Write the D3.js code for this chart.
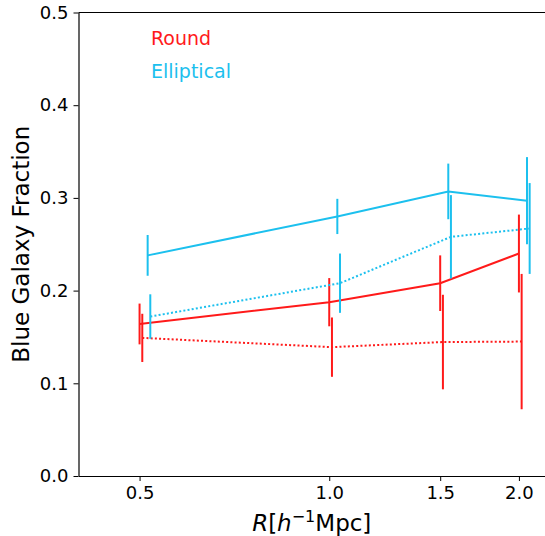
<!DOCTYPE html>
<html>
<head>
<meta charset="utf-8">
<script src="https://cdn.jsdelivr.net/npm/d3@7"></script>
<style>
  body { margin: 0; background: #fff; }
  svg { display: block; font-family: "DejaVu Sans", sans-serif; }
</style>
</head>
<body>
<svg id="chart" width="545" height="536"></svg>
<script>
// tick values
const xTicks = [0.5, 1.0, 1.5, 2.0];
const yTicks = [0.0, 0.1, 0.2, 0.3, 0.4, 0.5];

// round, solid
const roundSolidX = [0.5, 1.0, 1.5, 2.0];
const roundSolidY = [0.164, 0.1875, 0.208, 0.240];
const roundSolidErr = [0.022, 0.026, 0.030, 0.042];

// round, dotted
const roundDotX = [0.505, 1.01, 1.515, 2.02];
const roundDotY = [0.149, 0.139, 0.1445, 0.145];
const roundDotErr = [0.026, 0.032, 0.051, 0.073];

// elliptical, solid
const ellSolidX = [0.515, 1.03, 1.545, 2.06];
const ellSolidY = [0.238, 0.280, 0.307, 0.297];
const ellSolidErr = [0.022, 0.019, 0.030, 0.047];

// elliptical, dotted
const ellDotX = [0.52, 1.04, 1.56, 2.08];
const ellDotY = [0.172, 0.208, 0.258, 0.267];
const ellDotErr = [0.024, 0.032, 0.045, 0.049];

const RED = "#ff1a1a";
const CYAN = "#1cc0ee";

const svg = d3.select("#chart");

const LEFT = 78.5, RIGHT = 545, TOP = 12.5, BOTTOM = 476;

const x = d3.scaleLog().domain([0.4, 2.2]).range([LEFT, RIGHT]);
const y = d3.scaleLinear().domain([0, 0.5]).range([BOTTOM, TOP]);

function zipSeries(xs, ys, es) {
    return xs.map((v, i) => ({x: v, y: ys[i], e: es[i]}));
}

const series = [
    {pts: zipSeries(roundSolidX, roundSolidY, roundSolidErr), color: RED, dash: null},
    {pts: zipSeries(roundDotX, roundDotY, roundDotErr), color: RED, dash: "2,2.2"},
    {pts: zipSeries(ellSolidX, ellSolidY, ellSolidErr), color: CYAN, dash: null},
    {pts: zipSeries(ellDotX, ellDotY, ellDotErr), color: CYAN, dash: "2,2.2"}
];

const line = d3.line().x(d => x(d.x)).y(d => y(d.y));

const plot = svg.append("g");

series.forEach(s => {
    plot.append("path")
        .datum(s.pts)
        .attr("d", line)
        .attr("fill", "none")
        .attr("stroke", s.color)
        .attr("stroke-width", 2)
        .attr("stroke-dasharray", s.dash);

    // error bars, no caps
    plot.selectAll(null)
        .data(s.pts)
        .enter().append("line")
        .attr("x1", d => x(d.x)).attr("x2", d => x(d.x))
        .attr("y1", d => y(d.y - d.e)).attr("y2", d => y(d.y + d.e))
        .attr("stroke", s.color)
        .attr("stroke-width", 2);
});

// axes
const xAxis = d3.axisBottom(x).tickValues(xTicks).tickFormat(d3.format(".1f"))
    .tickSizeInner(5).tickSizeOuter(0).tickPadding(5);
const yAxis = d3.axisLeft(y).tickValues(yTicks).tickFormat(d3.format(".1f"))
    .tickSizeInner(5).tickSizeOuter(0).tickPadding(5);

const gx = svg.append("g").attr("transform", "translate(0," + BOTTOM + ")").call(xAxis);
const gy = svg.append("g").attr("transform", "translate(" + LEFT + ",0)").call(yAxis);

[gx, gy].forEach(g => {
    g.selectAll("text").attr("font-size", 18).attr("font-family", "DejaVu Sans").attr("fill", "#000");
    g.selectAll("line").attr("stroke", "#000").attr("stroke-width", 1);
    g.select(".domain").attr("stroke", "#000").attr("stroke-width", 1.2);
});

// top spine
svg.append("line")
    .attr("x1", LEFT).attr("x2", RIGHT)
    .attr("y1", TOP).attr("y2", TOP)
    .attr("stroke", "#000").attr("stroke-width", 1.2);

// labels
svg.append("text")
    .attr("transform", "translate(28.5," + ((TOP + BOTTOM) / 2) + ") rotate(-90)")
    .attr("text-anchor", "middle")
    .attr("font-size", 23)
    .text("Blue Galaxy Fraction");

const xl = svg.append("text")
    .attr("x", (LEFT + RIGHT) / 2)
    .attr("y", 531)
    .attr("text-anchor", "middle")
    .attr("font-size", 23);
xl.append("tspan").attr("font-style", "italic").text("R");
xl.append("tspan").text("[");
xl.append("tspan").attr("font-style", "italic").text("h");
xl.append("tspan").attr("font-size", 16).attr("dy", -9).text("\u22121");
xl.append("tspan").attr("dy", 9).text("Mpc]");

// legend text
svg.append("text").attr("x", 151).attr("y", 44.5).attr("font-size", 19).attr("fill", RED).text("Round");
svg.append("text").attr("x", 151).attr("y", 77.5).attr("font-size", 19).attr("fill", CYAN).text("Elliptical");
</script>
</body>
</html>
